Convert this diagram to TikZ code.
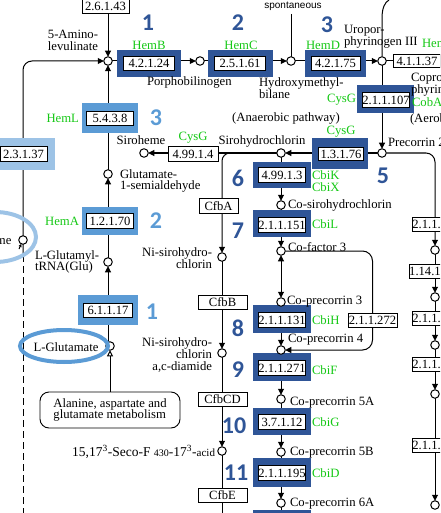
\documentclass[tikz,border=0pt]{standalone}
\usepackage{fontspec}
\setmainfont{Liberation Serif}
\newfontfamily\numfont{Carlito}
\newfontfamily\keggsans{Liberation Sans}
\usetikzlibrary{arrows.meta}
\definecolor{frameDark}{RGB}{47,85,151}
\definecolor{frameMid}{RGB}{91,155,213}
\definecolor{frameLight}{RGB}{157,195,230}
\definecolor{geneGreen}{RGB}{20,200,20}
\pgfdeclarelayer{links}
\pgfdeclarelayer{frames}
\pgfsetlayers{links,frames,main}
\begin{document}
\begin{tikzpicture}[x=1pt,y=-1pt,
  every node/.style={inner sep=0pt, outer sep=0pt},
  link/.style={line width=1pt, black},
  arr/.style={link, -{Triangle[length=6pt,width=6pt]}},
  cpd/.style={circle, draw, line width=1pt, fill=white, minimum size=8.5pt},
  ec/.style={draw, line width=0.9pt, fill=white, minimum width=47pt, minimum height=14.5pt, font=\fontsize{12.6}{12}\selectfont},
  frm/.style={rectangle, fill=#1},
  lbl/.style={font=\fontsize{12.7}{11.8}\selectfont, align=left},
  gene/.style={text=geneGreen, font=\fontsize{12.7}{12}\selectfont, align=left},
  num/.style={text=#1, font=\numfont\bfseries\fontsize{24}{24}\selectfont},
]
\useasboundingbox (0,0) rectangle (440,513);
\clip (0,0) rectangle (440,513);

% ---------- compounds ----------
\node[cpd] (ala5)  at (108,61) {};
\node[cpd] (pbg)   at (200,61) {};
\node[cpd] (hmb)   at (291,61) {};
\node[cpd] (uro)   at (382,61) {};
\node[cpd] (prec2) at (382,153) {};
\node[cpd] (sirohc) at (281,153) {};
\node[cpd] (sirohm) at (144,153) {};
\node[cpd] (gsa)   at (108,174) {};
\node[cpd] (glutrna) at (108,262) {};
\node[cpd] (glu)   at (110,346) {};
\node[cpd] (heme)  at (23,240) {};
\node[cpd] (cosiro) at (281,205) {};
\node[cpd] (cof3)  at (281,251) {};
\node[cpd] (cop3)  at (281,302) {};
\node[cpd] (cop4)  at (281,350) {};
\node[cpd] (cop5a) at (281,399) {};
\node[cpd] (cop5b) at (281,452) {};
\node[cpd] (cop6a) at (281,503) {};
\node[cpd] (nisiro) at (222,257) {};
\node[cpd] (nisirod) at (222,353) {};
\node[cpd] (seco)  at (222,451) {};
\node[cpd] (r1) at (435,250) {};
\node[cpd] (r2) at (435,297) {};
\node[cpd] (r3) at (435,345) {};
\node[cpd] (r4) at (435,394) {};
\node[cpd] (r5) at (435,505) {};

\coordinate (spont) at (291,14);
\coordinate (topc) at (389,0);
\coordinate (leftj) at (23,255);
\coordinate (leftend) at (23,520);
\coordinate (branch) at (240,153);
\coordinate (cfbend) at (222,520);
\coordinate (cobend) at (281,520);
\coordinate (hemetail) at (19,249);

% ---------- enzyme boxes ----------
\node[ec, minimum height=14pt] (e2643) at (105.5,6.5) {2.6.1.43};
\node[ec, minimum width=51pt] (e42124) at (149,63.5) {4.2.1.24};
\node[ec, minimum width=51pt] (e25161) at (240,63.5) {2.5.1.61};
\node[ec, minimum width=49pt] (e42175) at (335.5,63.5) {4.2.1.75};
\node[ec, minimum height=13pt] (e41137) at (417,61) {4.1.1.37};
\node[ec] (e211107) at (386,100) {2.1.1.107};
\node[ec, minimum width=45pt, minimum height=13.5pt] (e13176) at (341,154) {1.3.1.76};
\node[ec, minimum width=50pt] (e49914) at (193,154) {4.99.1.4};
\node[ec] (e5438) at (110,118.5) {5.4.3.8};
\node[ec] (e23137) at (23.5,154) {2.3.1.37};
\node[ec] (e12170) at (110,221) {1.2.1.70};
\node[ec, minimum width=49pt] (e61117) at (108,310.5) {6.1.1.17};
\node[ec] (e49913) at (282,175) {4.99.1.3};
\node[ec] (e211151) at (282,225) {2.1.1.151};
\node[ec] (e211131) at (282,320) {2.1.1.131};
\node[ec] (e211271) at (282,368) {2.1.1.271};
\node[ec] (e37112) at (282,422) {3.7.1.12};
\node[ec] (e211195) at (282,473) {2.1.1.195};
\node[ec, minimum width=49pt] (e211272) at (372.5,320.5) {2.1.1.272};
\node[ec] (er1) at (436,224.5) {2.1.1.130};
\node[ec] (er2) at (436,271.5) {1.14.13.83};
\node[ec] (er3) at (436,318.5) {2.1.1.131};
\node[ec] (er4) at (436,364.5) {2.1.1.133};
\node[ec] (er5) at (436,445.5) {2.1.1.152};
\node[ec, minimum width=39pt] (cfbA) at (218.5,206) {CfbA};
\node[ec, minimum width=49pt] (cfbB) at (222.5,302.5) {CfbB};
\node[ec, minimum width=49pt] (cfbCD) at (222.5,399.5) {CfbCD};
\node[ec, minimum width=49pt] (cfbE) at (222.5,495.5) {CfbE};
\node[draw, line width=0.9pt, rounded corners=9pt, minimum width=140pt, minimum height=36pt,
      lbl, align=left] (alabox) at (110,410) {Alanine, aspartate and\\glutamate metabolism};

% ---------- compound names ----------
\node[lbl, align=right, anchor=east] (tAla) at (98,40) {5-Amino-\\levulinate};
\node[lbl, anchor=west] (tPbg) at (147,82) {Porphobilinogen};
\node[lbl, anchor=west] (tHmb) at (259,88) {Hydroxymethyl-\\bilane};
\node[lbl, anchor=west] (tUro) at (344,37) {Uropor-\\phyrinogen III};
\node[lbl, anchor=west] (tCopro) at (411,85) {Copropor-\\phyrinogen III};
\node[lbl] (tAnaer) at (286,118) {(Anaerobic pathway)};
\node[lbl, anchor=west] (tAer) at (410,119) {(Aerobic pathway)};
\node[lbl] (tSirohm) at (141,140) {Siroheme};
\node[lbl] (tSirohc) at (262,141) {Sirohydrochlorin};
\node[lbl, anchor=west] (tPrec2) at (388,142) {Precorrin 2};
\node[lbl, anchor=west] (tGsa) at (120,181) {Glutamate-\\1-semialdehyde};
\node[lbl, anchor=west] (tCosiro) at (288,205) {Co-sirohydrochlorin};
\node[lbl, anchor=west] (tCof3) at (288,247) {Co-factor 3};
\node[lbl, anchor=west] (tCop3) at (287,302) {Co-precorrin 3};
\node[lbl, anchor=west] (tCop4) at (288,340) {Co-precorrin 4};
\node[lbl, anchor=west] (tCop5a) at (290,403) {Co-precorrin 5A};
\node[lbl, anchor=west] (tCop5b) at (290,453) {Co-precorrin 5B};
\node[lbl, anchor=west] (tCop6a) at (290,504) {Co-precorrin 6A};
\node[lbl, anchor=west] (tGlutrna) at (35,262) {L-Glutamyl-\\tRNA(Glu)};
\node[lbl] (tGlu) at (66,347) {L-Glutamate};
\node[lbl, align=right, anchor=east] (tNisiro) at (212,258) {Ni-sirohydro-\\chlorin};
\node[lbl, align=right, anchor=east] (tNisirod) at (212,355) {Ni-sirohydro-\\chlorin\\a,c-diamide};
\node[anchor=east, font=\fontsize{13.5}{13.5}\selectfont] (tSeco) at (215,452)
  {15,17\textsuperscript{3}-Seco-F {\fontsize{10}{10}\selectfont 430}-17\textsuperscript{3}-{\fontsize{11}{11}\selectfont acid}};
\node[lbl, anchor=east] (tHeme) at (11.5,240) {Heme};
\node[font=\keggsans\fontsize{10}{10}\selectfont] (tSpont) at (293,6) {spontaneous};

% ---------- gene names ----------
\node[gene] at (149,45) {HemB};
\node[gene] at (241,45) {HemC};
\node[gene] at (323,45.5) {HemD};
\node[gene, anchor=west] at (422,43) {HemE};
\node[gene, anchor=east] at (79,118) {HemL};
\node[gene, anchor=east] at (79,221) {HemA};
\node[gene, anchor=east] at (356,100) {CysG};
\node[gene] at (193,138) {CysG};
\node[gene, anchor=west] at (412,102) {CobA};
\node[gene, anchor=west] at (312,181.5) {CbiK\\CbiX};
\node[gene, anchor=west] at (312,224) {CbiL};
\node[gene, anchor=west] at (312,320) {CbiH};
\node[gene, anchor=west] at (312,370) {CbiF};
\node[gene, anchor=west] at (312,422) {CbiG};
\node[gene, anchor=west] at (312,473) {CbiD};

% ---------- step numbers ----------
\node[num=frameDark] at (148,23) {1};
\node[num=frameDark] at (238,23) {2};
\node[num=frameDark] at (327,25) {3};
\node[num=frameDark] at (383,176) {5};
\node[num=frameDark] at (238,178) {6};
\node[num=frameDark] at (238,231) {7};
\node[num=frameDark] at (238,328) {8};
\node[num=frameDark] at (238,370) {9};
\node[num=frameDark] at (234,426) {10};
\node[num=frameDark] at (236,473) {11};
\node[num=frameMid] at (156,118) {3};
\node[num=frameMid] at (156,221) {2};
\node[num=frameMid] at (152,312) {1};

% ---------- highlight ellipses ----------
\draw[frameLight, line width=4pt] (-5,237) ellipse [x radius=41pt, y radius=25pt];
\draw[frameMid, line width=4pt] (64,346) ellipse [x radius=44pt, y radius=16pt];

% ---------- highlight frames ----------
\begin{pgfonlayer}{frames}
\node[frm=frameDark, minimum width=64pt, minimum height=27pt] (fB) at (149,63.5) {};
\node[frm=frameDark, minimum width=65pt, minimum height=27pt] (fC) at (240,63.5) {};
\node[frm=frameDark, minimum width=61pt, minimum height=27pt] (fD) at (335.5,63.5) {};
\node[frm=frameDark, minimum width=57pt, minimum height=28pt] (fCysG) at (385.5,99) {};
\node[frm=frameDark, minimum width=56pt, minimum height=31pt] (f13176) at (340,153.5) {};
\node[frm=frameDark, minimum width=58pt, minimum height=26pt] (f49913) at (282,175) {};
\node[frm=frameDark, minimum width=58pt, minimum height=27pt] (f211151) at (282,223.5) {};
\node[frm=frameDark, minimum width=58pt, minimum height=28pt] (f211131) at (282,319) {};
\node[frm=frameDark, minimum width=58pt, minimum height=28pt] (f211271) at (282,367) {};
\node[frm=frameDark, minimum width=58pt, minimum height=27pt] (f37112) at (282,421.5) {};
\node[frm=frameDark, minimum width=58pt, minimum height=29pt] (f211195) at (282,472.5) {};
\node[frm=frameDark, minimum width=58pt, minimum height=28pt] (fnext) at (282,524) {};
\node[frm=frameMid, minimum width=56pt, minimum height=30pt] (f5438) at (110,118) {};
\node[frm=frameMid, minimum width=56pt, minimum height=28pt] (f12170) at (110,221) {};
\node[frm=frameMid, minimum width=60pt, minimum height=30pt] (f61117) at (108,310) {};
\node[frm=frameLight, minimum width=65pt, minimum height=32pt] (f23137) at (22.5,154) {};
\end{pgfonlayer}

% ---------- reactions ----------
\begin{pgfonlayer}{links}
\node[gene] at (341,132) {CysG};
\draw[arr] (e2643.south -| ala5) -- (ala5);
\draw[arr, rounded corners=9pt] (leftj) |- (ala5);
\draw[link, dash pattern=on 7pt off 4pt] (leftj) -- (leftend);
\draw[link, -{Triangle[length=3pt,width=3pt]}] (hemetail) -- (heme);
\draw[arr] (gsa) -- (ala5);
\draw[arr] (glutrna) -- (gsa);
\draw[arr] (glu.north -| glutrna) -- (glutrna);
\draw[link, -{Triangle[open, length=6pt, width=6pt]}] (alabox.north -| glu) -- (glu);
\draw[arr] (ala5) -- (pbg);
\draw[arr] (pbg) -- (hmb);
\draw[arr] (hmb) -- (uro);
\draw[link] (spont) -- (hmb);
\draw[link] (uro) -- (e41137);
\draw[link] (uro.north) -- (382,18) .. controls (382,8) and (385,2) .. (topc);
\draw[arr] (uro) -- (prec2);
\draw[arr] (prec2) -- (sirohc);
\draw[arr, rounded corners=9pt] (prec2) -| (r1);
\draw[arr] (r1) -- (r2);
\draw[arr] (r2) -- (r3);
\draw[arr] (r3) -- (r4);
\draw[arr] (r4) -- (r5);
\draw[arr] (sirohc) -- (sirohm);
\draw[arr, rounded corners=8pt] (branch) -| (nisiro);
\draw[arr] (nisiro) -- (nisirod);
\draw[arr] (nisirod) -- (seco);
\draw[link] (seco) -- (cfbend);
\draw[arr] (sirohc) -- (cosiro);
\draw[arr] (cosiro) -- (cof3);
\draw[link, {Triangle[length=6pt,width=6pt]}-{Triangle[length=6pt,width=6pt]}] (cof3) -- (cop3);
\draw[arr, rounded corners=10pt] (cof3) -| (e211272.center) |- (cop4);
\draw[arr] (cop3) -- (cop4);
\draw[arr] (cop4) -- (cop5a);
\draw[arr] (cop5a) -- (cop5b);
\draw[arr] (cop5b) -- (cop6a);
\draw[link] (cop6a) -- (cobend);
\end{pgfonlayer}
\end{tikzpicture}
\end{document}
